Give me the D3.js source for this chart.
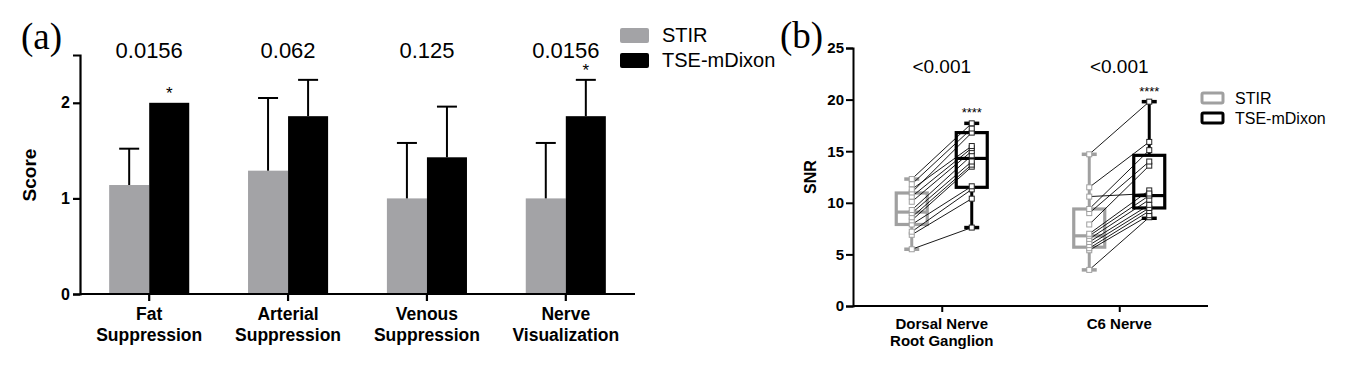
<!DOCTYPE html>
<html>
<head>
<meta charset="utf-8">
<script src="https://cdn.jsdelivr.net/npm/d3@7"></script>
<style>
  body { margin: 0; background: #fff; }
  svg { display: block; font-family: "Liberation Sans", Arial, sans-serif; }
</style>
</head>
<body>
<script>
// ---- panel (a) data : image quality scores ----
var categoriesA = ["Fat\nSuppression", "Arterial\nSuppression", "Venous\nSuppression", "Nerve\nVisualization"];
var stirMean = [1.14, 1.29, 1.0, 1.0];
var stirSD = [0.38, 0.76, 0.58, 0.58];
var tseMean = [2.0, 1.86, 1.43, 1.86];
var tseSD = [0, 0.38, 0.53, 0.38];
var pValuesA = ["0.0156", "0.062", "0.125", "0.0156"];
var starsA = ["*", "", "", "*"];
var ticksA = [0, 1, 2];

// ---- panel (b) data : SNR ----
var categoriesB = ["Dorsal Nerve\nRoot Ganglion", "C6 Nerve"];
// [min, q1, median, q3, max]
var stirBox = [[5.5, 7.9, 9.1, 10.95, 12.3], [3.5, 5.7, 6.8, 9.4, 14.7]];
var tseBox = [[7.6, 11.5, 14.3, 16.8, 17.7], [8.5, 9.5, 10.7, 14.6, 19.8]];
// paired subjects
var stirSNR = [
  [5.5, 6.9, 7.2, 7.9, 8.3, 8.6, 9.0, 9.3, 10.1, 10.6, 11.0, 11.3, 11.8, 12.3],
  [3.5, 5.4, 5.6, 5.9, 6.2, 6.5, 6.8, 7.0, 7.9, 9.0, 9.4, 10.6, 11.5, 14.7]
];
var tseSNR = [
  [7.6, 10.4, 11.3, 11.6, 13.5, 13.7, 14.0, 14.6, 15.0, 15.3, 16.8, 15.5, 17.2, 17.7],
  [8.6, 8.8, 9.2, 9.5, 9.8, 10.3, 10.7, 11.2, 13.6, 14.0, 15.1, 10.9, 15.9, 19.8]
];
var pValuesB = ["<0.001", "<0.001"];
var starsB = ["****", "****"];
var ticksB = [0, 5, 10, 15, 20, 25];

var seriesNames = ["STIR", "TSE-mDixon"];

var width = 1354, height = 369;
var grey = "#a3a3a6", greyLine = "#a0a0a0";

var svg = d3.select("body").append("svg")
    .attr("width", width)
    .attr("height", height);

// ================= panel (a) =================
var xA = d3.scaleBand()
    .domain(categoriesA)
    .range([80, 635])
    .paddingInner(0.4234)
    .paddingOuter(0.21);

var yA = d3.scaleLinear()
    .domain([0, 2.5])
    .range([294, 55]);

var gA = svg.append("g");

// bars
var half = xA.bandwidth() / 2;
var barsA = categoriesA.map(function(c, i) {
  return [
    {cat: c, x: xA(c), mean: stirMean[i], sd: stirSD[i], fill: grey},
    {cat: c, x: xA(c) + half, mean: tseMean[i], sd: tseSD[i], fill: "#000"}
  ];
}).flat();

gA.selectAll("rect.bar")
  .data(barsA)
  .enter().append("rect")
    .attr("class", "bar")
    .attr("x", function(d) { return d.x; })
    .attr("y", function(d) { return yA(d.mean); })
    .attr("width", half)
    .attr("height", function(d) { return yA(0) - yA(d.mean); })
    .attr("fill", function(d) { return d.fill; });

// upper error bars
var errs = gA.selectAll("g.err")
  .data(barsA.filter(function(d) { return d.sd > 0; }))
  .enter().append("g")
    .attr("stroke", "#000")
    .attr("stroke-width", 2);
errs.append("line")
    .attr("x1", function(d) { return d.x + half / 2; })
    .attr("x2", function(d) { return d.x + half / 2; })
    .attr("y1", function(d) { return yA(d.mean); })
    .attr("y2", function(d) { return yA(d.mean + d.sd); });
errs.append("line")
    .attr("x1", function(d) { return d.x + half / 2 - 10; })
    .attr("x2", function(d) { return d.x + half / 2 + 10; })
    .attr("y1", function(d) { return yA(d.mean + d.sd); })
    .attr("y2", function(d) { return yA(d.mean + d.sd); });

// axes
var axisLeftA = gA.append("g")
    .attr("transform", "translate(80,0)")
    .call(d3.axisLeft(yA).tickValues(ticksA).tickSize(7).tickFormat(d3.format("d")));
var axisBottomA = gA.append("g")
    .attr("transform", "translate(0,294)")
    .call(d3.axisBottom(xA).tickSize(7).tickFormat(""));
[axisLeftA, axisBottomA].forEach(function(a) {
  a.select(".domain").attr("stroke-width", 2.2);
  a.selectAll(".tick line").attr("stroke-width", 2.2);
});
axisLeftA.selectAll(".tick text")
    .attr("x", -10)
    .attr("font-size", 16)
    .attr("font-weight", "bold")
    .attr("font-family", "Liberation Sans, Arial, sans-serif")
    .attr("fill", "#000");
axisBottomA.select(".domain").attr("d", "M80,0H635");

// category labels
categoriesA.forEach(function(c) {
  var t = gA.append("text")
      .attr("text-anchor", "middle")
      .attr("font-size", 17.5)
      .attr("font-weight", "bold");
  c.split("\n").forEach(function(line, k) {
    t.append("tspan")
      .attr("x", xA(c) + half)
      .attr("y", 320 + k * 21)
      .text(line);
  });
});

// p values and stars
gA.selectAll("text.p")
  .data(categoriesA)
  .enter().append("text")
    .attr("x", function(c) { return xA(c) + half; })
    .attr("y", 58)
    .attr("text-anchor", "middle")
    .attr("font-size", 22)
    .text(function(c, i) { return pValuesA[i]; });
gA.selectAll("text.star")
  .data(categoriesA)
  .enter().append("text")
    .attr("x", function(c) { return xA(c) + half * 1.5; })
    .attr("y", function(c, i) { return yA(tseMean[i] + tseSD[i]) - 4; })
    .attr("text-anchor", "middle")
    .attr("font-size", 17)
    .text(function(c, i) { return starsA[i]; });

gA.append("text")
    .attr("transform", "translate(36,175) rotate(-90)")
    .attr("text-anchor", "middle")
    .attr("font-size", 19)
    .attr("font-weight", "bold")
    .text("Score");

gA.append("text")
    .attr("x", 21)
    .attr("y", 49)
    .attr("font-family", "Liberation Serif, Times New Roman, serif")
    .attr("font-size", 37)
    .text("(a)");

// legend (a)
var legA = gA.append("g").attr("transform", "translate(620,28)");
seriesNames.forEach(function(s, i) {
  legA.append("rect")
      .attr("x", 0).attr("y", i * 25)
      .attr("width", 29).attr("height", 15)
      .attr("rx", 2)
      .attr("fill", i === 0 ? grey : "#000");
  legA.append("text")
      .attr("x", 42).attr("y", i * 25 + 14)
      .attr("font-size", 20)
      .text(s);
});

// ================= panel (b) =================
var xB = d3.scalePoint()
    .domain(categoriesB)
    .range([853, 1208])
    .padding(0.5);

var yB = d3.scaleLinear()
    .domain([0, 25])
    .range([306, 48]);

var gB = svg.append("g");
var off = 30, boxW = 31, capW = 15;

function drawBox(stats, cx, color) {
  var g = gB.append("g")
      .attr("stroke", color)
      .attr("fill", "none");
  // whiskers
  g.append("line")
      .attr("x1", cx).attr("x2", cx)
      .attr("y1", yB(stats[0])).attr("y2", yB(stats[4]))
      .attr("stroke-width", 3);
  [stats[0], stats[4]].forEach(function(v) {
    g.append("line")
        .attr("x1", cx - capW / 2).attr("x2", cx + capW / 2)
        .attr("y1", yB(v)).attr("y2", yB(v))
        .attr("stroke-width", 3.5);
  });
  g.append("rect")
      .attr("x", cx - boxW / 2)
      .attr("y", yB(stats[3]))
      .attr("width", boxW)
      .attr("height", yB(stats[1]) - yB(stats[3]))
      .attr("fill", "#fff")
      .attr("stroke-width", 3.2);
  g.append("line")
      .attr("x1", cx - boxW / 2).attr("x2", cx + boxW / 2)
      .attr("y1", yB(stats[2])).attr("y2", yB(stats[2]))
      .attr("stroke-width", 3.2);
}

categoriesB.forEach(function(c, i) {
  var cx = xB(c);
  drawBox(stirBox[i], cx - off, greyLine);
  drawBox(tseBox[i], cx + off, "#000");

  var pairs = d3.zip(stirSNR[i], tseSNR[i]);
  gB.append("g").selectAll("line")
    .data(pairs)
    .enter().append("line")
      .attr("x1", cx - off).attr("x2", cx + off)
      .attr("y1", function(d) { return yB(d[0]); })
      .attr("y2", function(d) { return yB(d[1]); })
      .attr("stroke", "#000")
      .attr("stroke-width", 0.9);

  [[stirSNR[i], cx - off, greyLine], [tseSNR[i], cx + off, "#222"]].forEach(function(s) {
    gB.append("g").selectAll("rect")
      .data(s[0])
      .enter().append("rect")
        .attr("x", s[1] - 2.5)
        .attr("y", function(v) { return yB(v) - 2.5; })
        .attr("width", 5).attr("height", 5)
        .attr("fill", "#fff")
        .attr("stroke", s[2])
        .attr("stroke-width", 1);
  });

  gB.append("text")
      .attr("x", cx)
      .attr("y", 73)
      .attr("text-anchor", "middle")
      .attr("font-size", 19)
      .text(pValuesB[i]);
  gB.append("text")
      .attr("x", cx + off)
      .attr("y", yB(tseBox[i][4]) - 6)
      .attr("text-anchor", "middle")
      .attr("font-size", 13)
      .text(starsB[i]);

  var t = gB.append("text")
      .attr("text-anchor", "middle")
      .attr("font-size", 15)
      .attr("font-weight", "bold");
  c.split("\n").forEach(function(line, k) {
    t.append("tspan")
      .attr("x", cx)
      .attr("y", 329 + k * 17)
      .text(line);
  });
});

var axisLeftB = gB.append("g")
    .attr("transform", "translate(853,0)")
    .call(d3.axisLeft(yB).tickValues(ticksB).tickSize(7));
var axisBottomB = gB.append("g")
    .attr("transform", "translate(0,306)")
    .call(d3.axisBottom(xB).tickSize(6).tickFormat(""));
[axisLeftB, axisBottomB].forEach(function(a) {
  a.select(".domain").attr("stroke-width", 2);
  a.selectAll(".tick line").attr("stroke-width", 2);
});
axisLeftB.selectAll(".tick text")
    .attr("x", -9)
    .attr("font-size", 15)
    .attr("font-weight", "bold")
    .attr("font-family", "Liberation Sans, Arial, sans-serif")
    .attr("fill", "#000");
axisBottomB.select(".domain").attr("d", "M853,0H1208");

gB.append("text")
    .attr("transform", "translate(816,177) rotate(-90)")
    .attr("text-anchor", "middle")
    .attr("font-size", 16)
    .attr("font-weight", "bold")
    .text("SNR");

gB.append("text")
    .attr("x", 780)
    .attr("y", 48)
    .attr("font-family", "Liberation Serif, Times New Roman, serif")
    .attr("font-size", 37)
    .text("(b)");

// legend (b)
var legB = gB.append("g").attr("transform", "translate(1202,93)");
seriesNames.forEach(function(s, i) {
  legB.append("rect")
      .attr("x", 0).attr("y", i * 20)
      .attr("width", 21).attr("height", 10)
      .attr("rx", 1.5)
      .attr("fill", "none")
      .attr("stroke", i === 0 ? greyLine : "#000")
      .attr("stroke-width", 3);
  legB.append("text")
      .attr("x", 33).attr("y", i * 20 + 11)
      .attr("font-size", 16)
      .text(s);
});
</script>
</body>
</html>
